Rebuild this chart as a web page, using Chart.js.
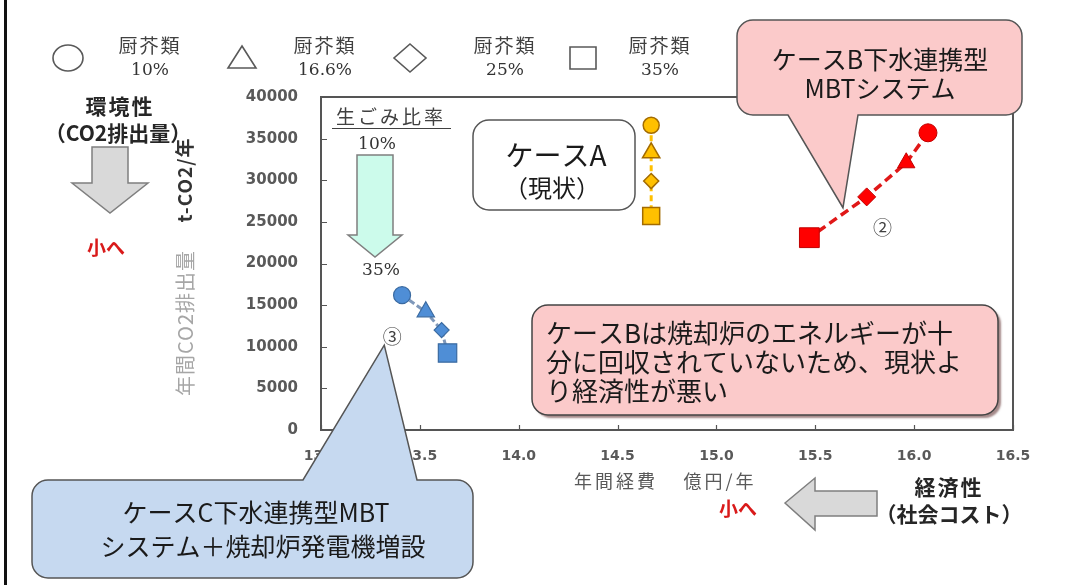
<!DOCTYPE html>
<html lang="ja">
<head>
<meta charset="utf-8">
<title>年間経費と年間CO2排出量</title>
<script src="https://cdn.jsdelivr.net/npm/chart.js@4.4.1/dist/chart.umd.min.js"></script>
<style>
  html, body { margin: 0; background: #fff; }
  #wrap { width: 1070px; height: 585px; position: relative; }
</style>
</head>
<body>
<div id="wrap"><canvas id="costChart"></canvas></div>
<script>
// 生ごみ（厨芥類）比率ごとのマーカー
const shareLabels = ['10%', '16.6%', '25%', '35%'];
const markerStyles = ['circle', 'triangle', 'rectRot', 'rect'];

// ケースA（現状）
const caseACost = [14.67, 14.67, 14.67, 14.67];
const caseACO2 = [36600, 33300, 29900, 25700];
// ケースB 下水連携型MBTシステム
const caseBCost = [16.07, 15.96, 15.76, 15.47];
const caseBCO2 = [35700, 32100, 28000, 23100];
// ケースC 下水連携型MBTシステム＋焼却炉発電機増設
const caseCCost = [13.41, 13.53, 13.61, 13.64];
const caseCCO2 = [16200, 14200, 12000, 9250];

// 軸
const costTicks = [13.0, 13.5, 14.0, 14.5, 15.0, 15.5, 16.0, 16.5];
const co2Ticks = [0, 5000, 10000, 15000, 20000, 25000, 30000, 35000, 40000];

const JP = '"Noto Sans CJK JP", "Noto Sans", sans-serif';
const NUM = '"DejaVu Sans", sans-serif';
const SERIF = '"DejaVu Serif", serif';

function points(xs, ys) {
  return xs.map((x, i) => ({ x, y: ys[i] }));
}

function text(ctx, str, x, y, font, color, align, spacing) {
  ctx.save();
  ctx.font = font;
  ctx.fillStyle = color;
  ctx.textAlign = align || 'center';
  ctx.textBaseline = 'middle';
  if (spacing) ctx.letterSpacing = spacing + 'px';
  ctx.fillText(str, x, y);
  ctx.restore();
}

// 角丸の吹き出し（tail は上辺または下辺から出る）
function bubblePath(ctx, x, y, w, h, r, tail) {
  ctx.beginPath();
  ctx.moveTo(x + r, y);
  if (tail && tail.side === 'top') {
    ctx.lineTo(tail.from, y);
    ctx.lineTo(tail.tipX, tail.tipY);
    ctx.lineTo(tail.to, y);
  }
  ctx.lineTo(x + w - r, y);
  ctx.arcTo(x + w, y, x + w, y + r, r);
  ctx.lineTo(x + w, y + h - r);
  ctx.arcTo(x + w, y + h, x + w - r, y + h, r);
  if (tail && tail.side === 'bottom') {
    ctx.lineTo(tail.to, y + h);
    ctx.lineTo(tail.tipX, tail.tipY);
    ctx.lineTo(tail.from, y + h);
  }
  ctx.lineTo(x + r, y + h);
  ctx.arcTo(x, y + h, x, y + h - r, r);
  ctx.lineTo(x, y + r);
  ctx.arcTo(x, y, x + r, y, r);
  ctx.closePath();
}

function polygon(ctx, pts, fill, stroke, width) {
  ctx.save();
  ctx.beginPath();
  pts.forEach((p, i) => (i ? ctx.lineTo(p[0], p[1]) : ctx.moveTo(p[0], p[1])));
  ctx.closePath();
  ctx.fillStyle = fill;
  ctx.fill();
  ctx.strokeStyle = stroke;
  ctx.lineWidth = width || 1.5;
  ctx.stroke();
  ctx.restore();
}

function downArrow(ctx, cx, top, shaftHalf, headTop, headHalf, tip, fill) {
  polygon(ctx, [
    [cx - shaftHalf, top], [cx + shaftHalf, top], [cx + shaftHalf, headTop],
    [cx + headHalf, headTop], [cx, tip], [cx - headHalf, headTop], [cx - shaftHalf, headTop]
  ], fill, '#7f7f7f');
}

function legendMarker(ctx, style, x, y) {
  ctx.save();
  ctx.strokeStyle = '#595959';
  ctx.lineWidth = 1.6;
  ctx.beginPath();
  if (style === 'circle') {
    ctx.ellipse(x, y, 15, 13, 0, 0, Math.PI * 2);
  } else if (style === 'triangle') {
    ctx.moveTo(x, y - 12); ctx.lineTo(x + 14, y + 10); ctx.lineTo(x - 14, y + 10); ctx.closePath();
  } else if (style === 'rectRot') {
    ctx.moveTo(x, y - 14); ctx.lineTo(x + 16, y); ctx.lineTo(x, y + 14); ctx.lineTo(x - 16, y); ctx.closePath();
  } else {
    ctx.rect(x - 13, y - 11, 26, 22);
  }
  ctx.stroke();
  ctx.restore();
}

const legendMarkerX = [68, 242, 410, 583];
const legendTextX = [150, 325, 505, 660];

const decorations = {
  id: 'decorations',
  beforeDraw(chart) {
    const ctx = chart.ctx;
    ctx.save();
    ctx.fillStyle = '#fff';
    ctx.fillRect(0, 0, chart.width, chart.height);
    ctx.fillStyle = '#111';
    ctx.fillRect(4, 0, 3, chart.height);
    ctx.restore();
  },
  beforeDatasetsDraw(chart) {
    const ctx = chart.ctx;
    const { left, right, top, bottom } = chart.chartArea;
    const xs = chart.scales.x, ys = chart.scales.y;

    // 枠と内向きの目盛
    ctx.save();
    ctx.strokeStyle = '#555';
    ctx.lineWidth = 2;
    ctx.strokeRect(left, top, right - left, bottom - top);
    ctx.lineWidth = 1.2;
    ctx.beginPath();
    costTicks.forEach(v => {
      const px = Math.round(xs.getPixelForValue(v)) + 0.5;
      ctx.moveTo(px, bottom); ctx.lineTo(px, bottom - 5);
    });
    co2Ticks.forEach(v => {
      const py = Math.round(ys.getPixelForValue(v)) + 0.5;
      ctx.moveTo(left, py); ctx.lineTo(left + 6, py);
    });
    ctx.stroke();
    ctx.restore();

    // 生ごみ比率の矢印
    text(ctx, '生ごみ比率', 391, 117, '19px ' + JP, '#404040', 'center', 3);
    ctx.save();
    ctx.strokeStyle = '#404040';
    ctx.lineWidth = 1.2;
    ctx.beginPath();
    ctx.moveTo(332, 128.5); ctx.lineTo(451, 128.5);
    ctx.stroke();
    ctx.restore();
    text(ctx, shareLabels[0], 377, 145, '17px ' + SERIF, '#333');
    downArrow(ctx, 375, 155, 18, 235, 27, 257, '#ccfbeb');
    text(ctx, shareLabels[3], 381, 271, '17px ' + SERIF, '#333');

    // ケースA（現状）
    ctx.save();
    bubblePath(ctx, 473, 120, 162, 90, 16);
    ctx.fillStyle = '#fff';
    ctx.fill();
    ctx.strokeStyle = '#555';
    ctx.lineWidth = 1.5;
    ctx.stroke();
    ctx.restore();
    text(ctx, 'ケースA', 556, 155, '28px ' + JP, '#1a1a1a');
    text(ctx, '（現状）', 552, 188, '24px ' + JP, '#1a1a1a');

    // ②③
    text(ctx, '②', xs.getPixelForValue(15.84), ys.getPixelForValue(24300), '19px ' + JP, '#404040');
    text(ctx, '③', xs.getPixelForValue(13.36), ys.getPixelForValue(11200), '19px ' + JP, '#404040');
  },
  afterDraw(chart) {
    const ctx = chart.ctx;
    const xs = chart.scales.x, ys = chart.scales.y;

    // 凡例
    markerStyles.forEach((s, i) => {
      legendMarker(ctx, s, legendMarkerX[i], 58);
      text(ctx, '厨芥類', legendTextX[i], 46, '19px ' + JP, '#404040', 'center', 2);
      text(ctx, shareLabels[i], legendTextX[i], 71, '17px ' + SERIF, '#333');
    });

    // 環境性
    text(ctx, '環境性', 120, 106, 'bold 21px ' + JP, '#262626', 'center', 2);
    text(ctx, '（CO2排出量）', 118, 133, 'bold 21px ' + JP, '#262626');
    downArrow(ctx, 110, 147, 18, 183, 38, 213, '#d9d9d9');
    text(ctx, '小へ', 106, 248, 'bold 19px ' + JP, '#d91a1a');

    // 縦軸タイトル
    ctx.save();
    ctx.translate(185, 0);
    ctx.rotate(-Math.PI / 2);
    text(ctx, '年間CO2排出量', -323, 0, '20px ' + JP, '#a6a6a6', 'center', 1);
    text(ctx, 't-CO2/年', -180, 0, 'bold 19px ' + JP, '#333', 'center', 1);
    ctx.restore();

    // 横軸タイトルと経済性
    text(ctx, '年間経費', 616, 481, '18px ' + JP, '#595959', 'center', 3);
    text(ctx, '億円/年', 720, 481, '18px ' + JP, '#595959', 'center', 3);
    text(ctx, '小へ', 738, 509, 'bold 19px ' + JP, '#d91a1a');
    polygon(ctx, [
      [785, 503], [815, 478], [815, 491], [877, 491], [877, 516], [815, 516], [815, 530]
    ], '#d9d9d9', '#7f7f7f');
    text(ctx, '経済性', 949, 487, 'bold 21px ' + JP, '#262626', 'center', 2);
    text(ctx, '（社会コスト）', 949, 514, 'bold 21px ' + JP, '#262626');

    // ケースB 吹き出し
    ctx.save();
    bubblePath(ctx, 737, 20, 285, 95, 16, {
      side: 'bottom', from: 788, to: 858,
      tipX: xs.getPixelForValue(15.64), tipY: ys.getPixelForValue(26700)
    });
    ctx.fillStyle = '#fbcaca';
    ctx.fill();
    ctx.strokeStyle = '#555';
    ctx.lineWidth = 1.5;
    ctx.stroke();
    ctx.restore();
    text(ctx, 'ケースB下水連携型', 880, 59, '25px ' + JP, '#1a1a1a');
    text(ctx, 'MBTシステム', 880, 88, '25px ' + JP, '#1a1a1a');

    // ケースBの説明
    ctx.save();
    bubblePath(ctx, 532, 305, 466, 110, 16);
    ctx.shadowColor = 'rgba(90, 40, 40, 0.55)';
    ctx.shadowOffsetX = 3;
    ctx.shadowOffsetY = 3;
    ctx.shadowBlur = 2;
    ctx.fillStyle = '#fbcaca';
    ctx.fill();
    ctx.shadowColor = 'transparent';
    ctx.strokeStyle = '#444';
    ctx.lineWidth = 1.5;
    ctx.stroke();
    ctx.restore();
    text(ctx, 'ケースBは焼却炉のエネルギーが十', 546, 333, '26px ' + JP, '#1a1a1a', 'left');
    text(ctx, '分に回収されていないため、現状よ', 546, 362, '26px ' + JP, '#1a1a1a', 'left');
    text(ctx, 'り経済性が悪い', 546, 391, '26px ' + JP, '#1a1a1a', 'left');

    // ケースC 吹き出し
    ctx.save();
    bubblePath(ctx, 32, 480, 441, 98, 16, {
      side: 'top', from: 303, to: 417,
      tipX: xs.getPixelForValue(13.32), tipY: ys.getPixelForValue(10200)
    });
    ctx.fillStyle = '#c6d9f0';
    ctx.fill();
    ctx.strokeStyle = '#555';
    ctx.lineWidth = 1.5;
    ctx.stroke();
    ctx.restore();
    text(ctx, 'ケースC下水連携型MBT', 256, 512, '25px ' + JP, '#1a1a1a');
    text(ctx, 'システム＋焼却炉発電機増設', 263, 546, '25px ' + JP, '#1a1a1a');
  }
};

new Chart(document.getElementById('costChart'), {
  type: 'scatter',
  data: {
    datasets: [
      {
        label: 'ケースA（現状）',
        data: points(caseACost, caseACO2),
        showLine: true,
        borderColor: '#ffc000',
        borderWidth: 3,
        borderDash: [6, 4],
        pointStyle: markerStyles,
        pointRadius: [8, 10, 7.5, 12],
        pointBackgroundColor: '#ffc000',
        pointBorderColor: '#a36b00',
        pointBorderWidth: 1.5
      },
      {
        label: 'ケースB',
        data: points(caseBCost, caseBCO2),
        showLine: true,
        borderColor: '#e01818',
        borderWidth: 3.5,
        borderDash: [9, 5],
        pointStyle: markerStyles,
        pointRadius: [9, 10, 9, 14],
        pointBackgroundColor: '#ff0000',
        pointBorderColor: '#c00000',
        pointBorderWidth: 1
      },
      {
        label: 'ケースC',
        data: points(caseCCost, caseCCO2),
        showLine: true,
        borderColor: '#7f98ba',
        borderWidth: 3,
        borderDash: [6, 3],
        pointStyle: markerStyles,
        pointRadius: [8.5, 10, 7.5, 13],
        pointBackgroundColor: '#4f8ed6',
        pointBorderColor: '#3a6aa0',
        pointBorderWidth: 1.2
      }
    ]
  },
  options: {
    responsive: true,
    maintainAspectRatio: false,
    animation: false,
    events: [],
    layout: { padding: { left: 241, right: 57, top: 97, bottom: 115 } },
    plugins: {
      legend: { display: false },
      tooltip: { enabled: false }
    },
    scales: {
      x: {
        type: 'linear',
        min: costTicks[0],
        max: costTicks[costTicks.length - 1],
        afterFit: s => { s.height = 40; },
        afterBuildTicks: s => { s.ticks = costTicks.map(value => ({ value })); },
        grid: { display: false, drawTicks: false },
        border: { display: false },
        ticks: {
          padding: 18,
          color: '#595959',
          font: { family: NUM, size: 14, weight: 'bold' },
          callback: v => Number(v).toFixed(1)
        }
      },
      y: {
        type: 'linear',
        min: co2Ticks[0],
        max: co2Ticks[co2Ticks.length - 1],
        afterFit: s => { s.width = 80; },
        afterBuildTicks: s => { s.ticks = co2Ticks.map(value => ({ value })); },
        grid: { display: false, drawTicks: false },
        border: { display: false },
        ticks: {
          padding: 23,
          color: '#595959',
          font: { family: NUM, size: 15, weight: 'bold' },
          callback: v => String(v)
        }
      }
    }
  },
  plugins: [decorations]
});
</script>
</body>
</html>
